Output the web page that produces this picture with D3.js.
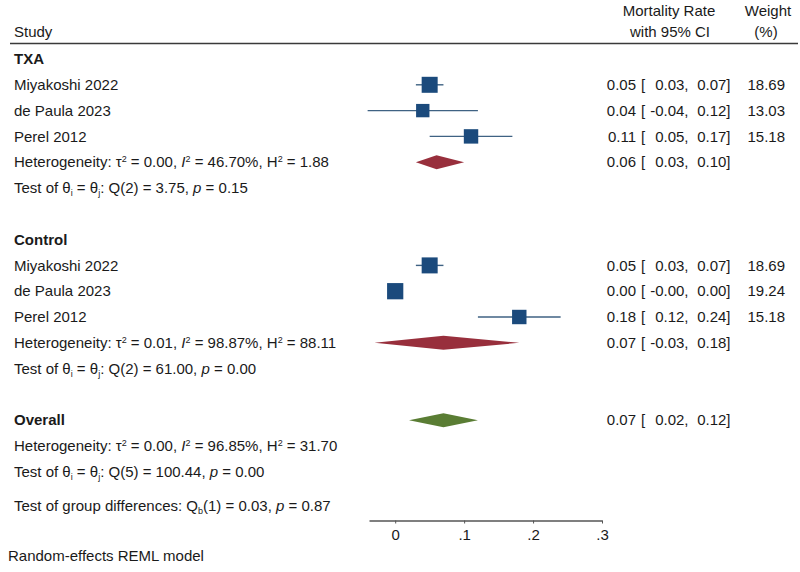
<!DOCTYPE html>
<html>
<head>
<meta charset="utf-8">
<script src="https://cdn.jsdelivr.net/npm/d3@7"></script>
<style>
  body { margin: 0; background: #fff; }
  svg text { font-family: "Liberation Sans", Arial, sans-serif; font-size: 15px; fill: #1a1a1a; }
</style>
</head>
<body>
<div id="chart"></div>
<script>
// forest plot: mortality rate, random-effects REML

const studies = ["Miyakoshi 2022", "de Paula 2023", "Perel 2012"];

const txaEst = [0.05, 0.04, 0.11];
const txaLo = [0.03, -0.04, 0.05];
const txaHi = [0.07, 0.12, 0.17];
const txaWeight = [18.69, 13.03, 15.18];

const controlEst = [0.05, 0.0, 0.18];
const controlLo = [0.03, -0.004, 0.12];
const controlHi = [0.07, 0.004, 0.24];
const controlWeight = [18.69, 19.24, 15.18];

// subgroup / overall pooled [est, lo, hi]
const txaPooled = [0.06, 0.03, 0.10];
const controlPooled = [0.07, -0.03, 0.18];
const overallPooled = [0.07, 0.02, 0.12];

// heterogeneity: tau2, I2, H2, Q df, Q, p
const txaHet = ["0.00", "46.70%", "1.88", 2, "3.75", "0.15"];
const controlHet = ["0.01", "98.87%", "88.11", 2, "61.00", "0.00"];
const overallHet = ["0.00", "96.85%", "31.70", 5, "100.44", "0.00"];
const groupDiff = [1, "0.03", "0.87"];

const xTicks = [0, 0.1, 0.2, 0.3];

const width = 800;
const height = 572;
const textX = 14;

const svg = d3.select("#chart")
  .append("svg")
  .attr("width", width)
  .attr("height", height);

const x = d3.scaleLinear().domain([-0.038, 0.3]).range([369, 602]);
const row = d3.scaleLinear().domain([0, 16]).range([59, 471.8]);
const side = d3.scaleSqrt().domain([0, 20]).range([0, 16.55]);

const fmt = (v) => v.toFixed(2);

// header
svg.append("text").attr("x", textX).attr("y", 32).attr("dy", "0.35em").text("Study");
const hdr = [
  ["Mortality Rate", 669, 10.5], ["with 95% CI", 670, 31.5],
  ["Weight", 768, 10.5], ["(%)", 766, 31.5],
];
svg.selectAll(".hdr").data(hdr).join("text")
  .attr("class", "hdr")
  .attr("x", (d) => d[1]).attr("y", (d) => d[2]).attr("dy", "0.35em")
  .attr("text-anchor", "middle")
  .text((d) => d[0]);
svg.append("line")
  .attr("x1", 10).attr("x2", 798).attr("y1", 43.5).attr("y2", 43.5)
  .attr("stroke", "#3a3a3a").attr("stroke-width", 1.5);

function ciText(y, est, lo, hi, w) {
  const g = svg.append("g").attr("transform", `translate(0,${y})`);
  const parts = [
    [fmt(est), 636, "end"], ["[", 641, "start"],
    [fmt(lo) + ",", 688.5, "end"], [fmt(hi) + "]", 730.5, "end"],
  ];
  if (w != null) parts.push([w.toFixed(2), 785, "end"]);
  g.selectAll("text").data(parts).join("text")
    .attr("x", (d) => d[1]).attr("dy", "0.35em")
    .attr("text-anchor", (d) => d[2])
    .text((d) => d[0]);
}

function label(y, bold) {
  return svg.append("text").attr("x", textX).attr("y", y).attr("dy", "0.35em")
    .attr("font-weight", bold ? "bold" : null);
}

function sup(t, s) {
  t.append("tspan").attr("font-size", "9px").attr("dy", "-5").text(s);
}

function hetLine(y, h) {
  const t = label(y);
  t.append("tspan").text("Heterogeneity: \u03c4");
  sup(t, "2");
  t.append("tspan").attr("dy", "5").text(` = ${h[0]}, `);
  t.append("tspan").attr("font-style", "italic").text("I");
  sup(t, "2");
  t.append("tspan").attr("dy", "5").text(` = ${h[1]}, H`);
  sup(t, "2");
  t.append("tspan").attr("dy", "5").text(` = ${h[2]}`);
}

function testLine(y, h) {
  const t = label(y);
  t.append("tspan").text("Test of \u03b8");
  t.append("tspan").attr("font-size", "9px").attr("dy", "3").text("i");
  t.append("tspan").attr("dy", "-3").text(" = \u03b8");
  t.append("tspan").attr("font-size", "9px").attr("dy", "3").text("j");
  t.append("tspan").attr("dy", "-3").text(`: Q(${h[3]}) = ${h[4]}, `);
  t.append("tspan").attr("font-style", "italic").text("p");
  t.append("tspan").text(` = ${h[5]}`);
}

function diamond(y, p, color) {
  const hh = 7;
  svg.append("path")
    .attr("d", `M${x(p[1])},${y}L${x(p[0])},${y - hh}L${x(p[2])},${y}L${x(p[0])},${y + hh}Z`)
    .attr("fill", color);
}

function group(start, name, est, lo, hi, wt, pooled, het) {
  label(row(start), true).text(name);
  const rows = studies.map((s, i) => ({ s, est: est[i], lo: lo[i], hi: hi[i], w: wt[i], y: row(start + 1 + i) }));
  rows.forEach((d) => label(d.y).text(d.s));
  svg.selectAll(null).data(rows).join("line")
    .attr("x1", (d) => x(d.lo)).attr("x2", (d) => x(d.hi))
    .attr("y1", (d) => d.y).attr("y2", (d) => d.y)
    .attr("stroke", "#3f6283").attr("stroke-width", 1.4);
  svg.selectAll(null).data(rows).join("rect")
    .attr("x", (d) => x(d.est) - side(d.w) / 2)
    .attr("y", (d) => d.y - side(d.w) / 2)
    .attr("width", (d) => side(d.w)).attr("height", (d) => side(d.w))
    .attr("fill", "#1b4a7c");
  rows.forEach((d) => ciText(d.y, d.est, d.lo, d.hi, d.w));
  diamond(row(start + 4), pooled, "#982f3c");
  ciText(row(start + 4), pooled[0], pooled[1], pooled[2], null);
  hetLine(row(start + 4), het);
  testLine(row(start + 5), het);
}

group(0, "TXA", txaEst, txaLo, txaHi, txaWeight, txaPooled, txaHet);
group(7, "Control", controlEst, controlLo, controlHi, controlWeight, controlPooled, controlHet);

label(row(14), true).text("Overall");
diamond(row(14), overallPooled, "#5a7d34");
ciText(row(14), overallPooled[0], overallPooled[1], overallPooled[2], null);
hetLine(row(15), overallHet);
testLine(row(16), overallHet);

const gd = label(505.5);
gd.append("tspan").text("Test of group differences: Q");
gd.append("tspan").attr("font-size", "9px").attr("dy", "3").text("b");
gd.append("tspan").attr("dy", "-3").text(`(${groupDiff[0]}) = ${groupDiff[1]}, `);
gd.append("tspan").attr("font-style", "italic").text("p");
gd.append("tspan").text(` = ${groupDiff[2]}`);

// axis
const axis = svg.append("g")
  .attr("transform", "translate(0,520.5)")
  .call(d3.axisBottom(x)
    .tickValues(xTicks)
    .tickSizeInner(3)
    .tickSizeOuter(0)
    .tickFormat((d) => (d === 0 ? "0" : d3.format(".1f")(d).replace(/^0/, ""))));
axis.select(".domain").attr("stroke", "#555").attr("stroke-width", 1.3);
axis.selectAll(".tick line").attr("stroke", "#555");
axis.selectAll(".tick text")
  .attr("font-size", "15px")
  .attr("font-family", "Liberation Sans, Arial, sans-serif")
  .attr("fill", "#1a1a1a")
  .attr("dy", "0.9em");

svg.append("text").attr("x", 8).attr("y", 556).attr("dy", "0.35em")
  .text("Random-effects REML model");
</script>
</body>
</html>
